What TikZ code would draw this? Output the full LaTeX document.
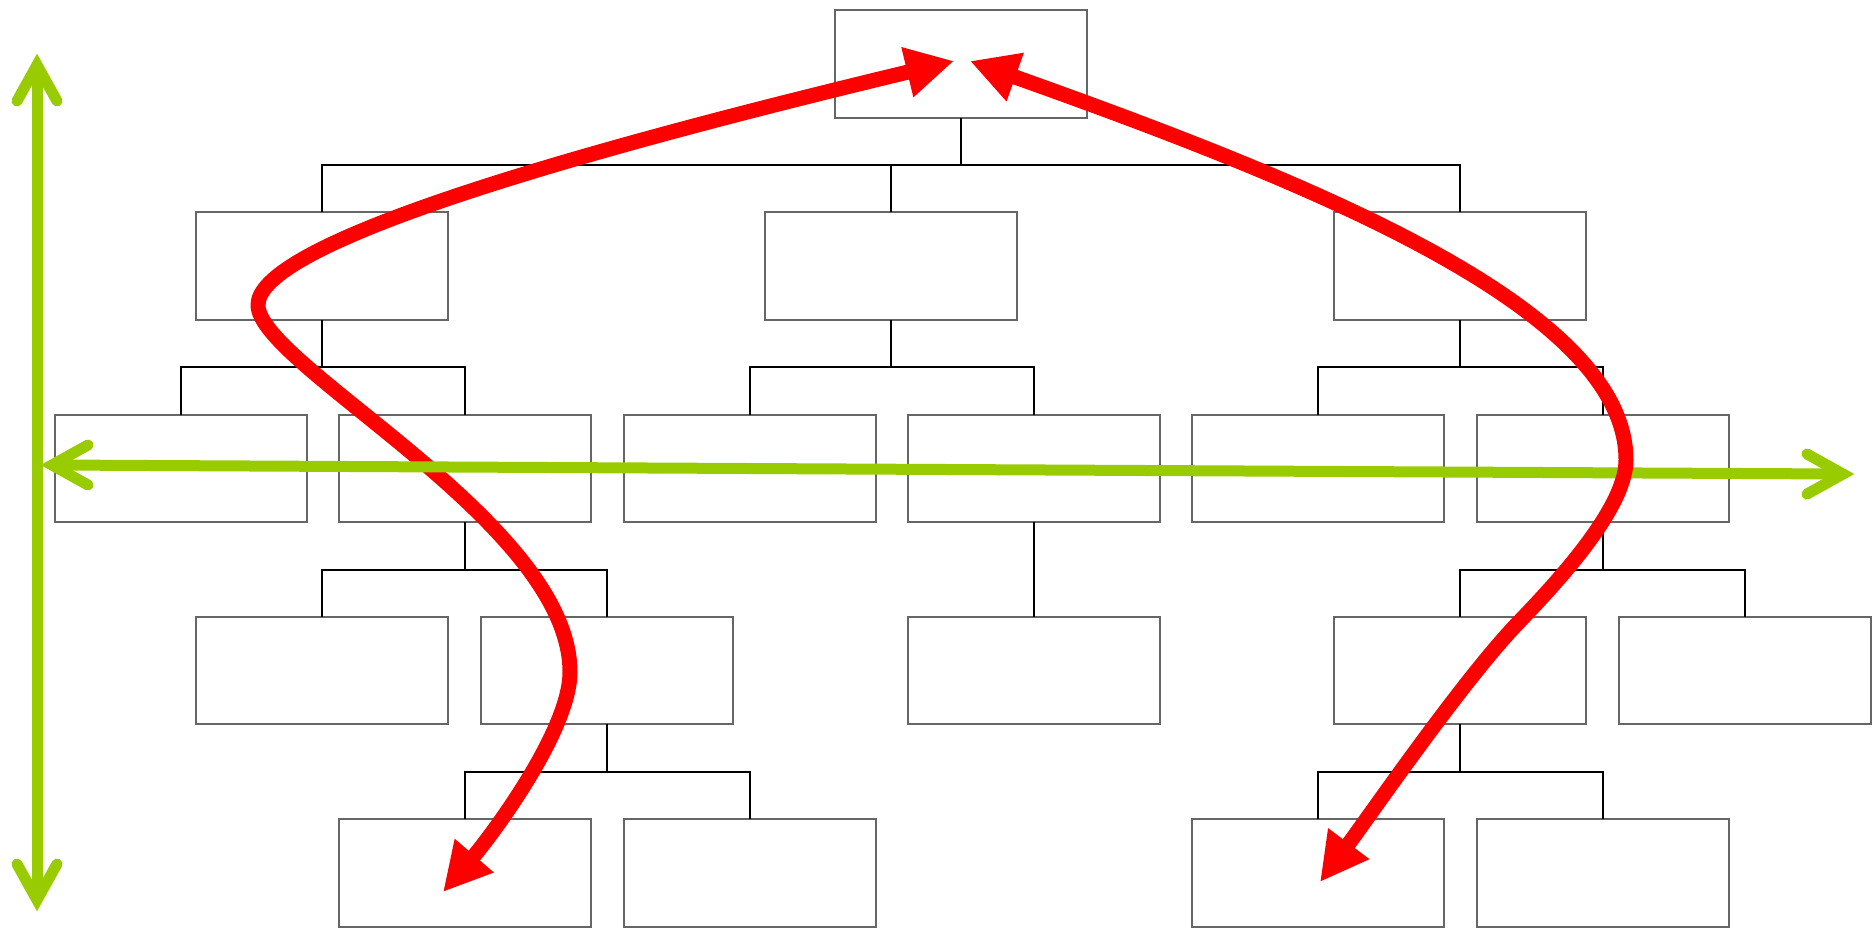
\documentclass[tikz,border=0pt]{standalone}
\usetikzlibrary{arrows.meta}
\definecolor{boxgray}{HTML}{666666}
\definecolor{lime}{HTML}{99CC00}
\begin{document}
\begin{tikzpicture}[x=1pt,y=-1pt,
  box/.style={draw=boxgray, line width=2pt, fill=white, minimum width=252pt, minimum height=107.5pt, inner sep=0pt, outer sep=0pt},
  link/.style={draw=black, line width=2pt},
  redcurve/.style={draw=red, line width=15pt, line join=round, {Triangle[length=48pt,width=48pt]}-{Triangle[length=48pt,width=48pt]}},
  greenline/.style={draw=lime, line width=11pt},
  greenhead/.style={draw=lime, line width=11pt, line cap=round, line join=miter}]
\useasboundingbox (0,0) rectangle (1872,927);
% bus junctions
\coordinate (b1) at (961,165);
\coordinate (bA) at (322.4,367.3);
\coordinate (bB) at (891.2,367.3);
\coordinate (bC) at (1460,367.3);
\coordinate (bD) at (465.3,569.6);
\coordinate (bF) at (1602.5,569.6);
\coordinate (bG) at (607.4,771.9);
\coordinate (bH) at (1460,771.9);
% boxes
\node[box] (r) at (961,63.75) {};
\node[box] (A) at (322.4,266.05) {};
\node[box] (B) at (891.2,266.05) {};
\node[box] (C) at (1460,266.05) {};
\node[box] (A1) at (181,468.35) {};
\node[box] (A2) at (465.3,468.35) {};
\node[box] (B1) at (749.6,468.35) {};
\node[box] (B2) at (1033.9,468.35) {};
\node[box] (C1) at (1318.2,468.35) {};
\node[box] (C2) at (1602.5,468.35) {};
\node[box] (D1) at (322.4,670.65) {};
\node[box] (D2) at (607.4,670.65) {};
\node[box] (E1) at (1033.9,670.65) {};
\node[box] (F1) at (1460,670.65) {};
\node[box] (F2) at (1744.6,670.65) {};
\node[box] (G1) at (465.3,872.95) {};
\node[box] (G2) at (749.6,872.95) {};
\node[box] (H1) at (1318.2,872.95) {};
\node[box] (H2) at (1602.5,872.95) {};
% tree connectors
\draw[link] (r.south) -- (b1);
\draw[link] (A.north) |- (b1);
\draw[link] (C.north) |- (b1);
\draw[link] (B.north) -- (B.north |- b1);
\draw[link] (A.south) -- (bA);
\draw[link] (A1.north) |- (bA);
\draw[link] (A2.north) |- (bA);
\draw[link] (B.south) -- (bB);
\draw[link] (B1.north) |- (bB);
\draw[link] (B2.north) |- (bB);
\draw[link] (C.south) -- (bC);
\draw[link] (C1.north) |- (bC);
\draw[link] (C2.north) |- (bC);
\draw[link] (A2.south) -- (bD);
\draw[link] (D1.north) |- (bD);
\draw[link] (D2.north) |- (bD);
\draw[link] (B2.south) -- (E1.north);
\draw[link] (C2.south) -- (bF);
\draw[link] (F1.north) |- (bF);
\draw[link] (F2.north) |- (bF);
\draw[link] (D2.south) -- (bG);
\draw[link] (G1.north) |- (bG);
\draw[link] (G2.north) |- (bG);
\draw[link] (F1.south) -- (bH);
\draw[link] (H1.north) |- (bH);
\draw[link] (H2.north) |- (bH);
% red curve left
\coordinate (rl) at (954,61);
\coordinate (gl) at (443,892);
\draw[redcurve] (rl) .. controls (504,169) and (258,250) .. (258,305)
  .. controls (258,365) and (570,522) .. (570,672)
  .. controls (570,732) and (488.6,839) .. (gl);
% green arrows
\coordinate (vt) at (37,65);
\coordinate (vb) at (37,900);
\coordinate (hl) at (52,465);
\coordinate (hr) at (1843,474);
\draw[greenline] (vt) -- (vb);
\draw[greenhead] (17,101) -- (vt) -- (57,101);
\draw[greenhead] (17,864) -- (vb) -- (57,864);
\draw[greenline] (hl) -- (hr);
\draw[greenhead] (88,445) -- (hl) -- (88,485);
\draw[greenhead] (1807,454) -- (hr) -- (1807,494);
% red curve right
\coordinate (rr) at (970,61);
\coordinate (hh) at (1320,882);
\draw[redcurve] (rr) .. controls (1320,185.6) and (1626,310) .. (1626,460)
  .. controls (1626,510) and (1551.5,588) .. (1517,624)
  .. controls (1461.8,681.6) and (1368,818) .. (hh);
\end{tikzpicture}
\end{document}
